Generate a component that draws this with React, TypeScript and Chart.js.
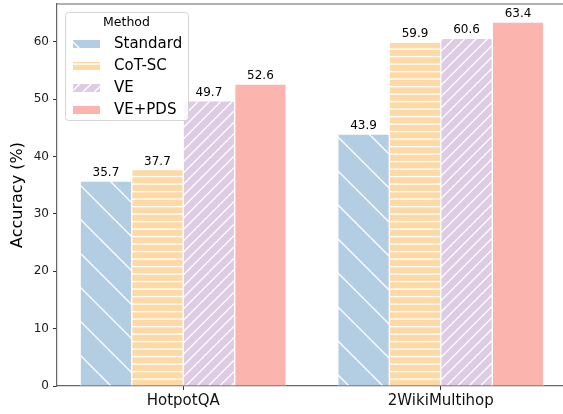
import React, { useEffect, useRef } from 'react';
import { Chart, registerables } from 'chart.js';

Chart.register(...registerables);

const categories = ['HotpotQA', '2WikiMultihop'];
const categoryPositions = [0, 1];
const methods = ['Standard', 'CoT-SC', 'VE', 'VE+PDS'];
const standardValues = [35.7, 43.9];
const cotscValues = [37.7, 59.9];
const veValues = [49.7, 60.6];
const vepdsValues = [52.6, 63.4];
const yTicks = [0, 10, 20, 30, 40, 50, 60];
const colors = ['#b3cde3', '#fed9a6', '#decbe4', '#fbb4ae'];
const hatches = ['\\', '-', '/', ''];

const FONT = "'DejaVu Sans', sans-serif";

function makePattern(color: string, hatch: string): CanvasPattern | string {
  if (!hatch) return color;
  const c = document.createElement('canvas');
  const ctx = c.getContext('2d')!;
  if (hatch === '-') {
    c.width = 16;
    c.height = 15;
    ctx.fillStyle = color;
    ctx.fillRect(0, 0, 16, 15);
    ctx.fillStyle = '#ffffff';
    ctx.fillRect(0, 3.4, 16, 1.4);
    ctx.fillRect(0, 10.9, 16, 1.4);
  } else {
    const s = 34;
    c.width = s;
    c.height = s;
    ctx.fillStyle = color;
    ctx.fillRect(0, 0, s, s);
    ctx.strokeStyle = '#ffffff';
    ctx.lineWidth = 1.3;
    ctx.beginPath();
    if (hatch === '\\') {
      const c0 = 31;
      for (let k = -2; k <= 1; k++) {
        const cc = c0 + k * s;
        ctx.moveTo(cc, 0);
        ctx.lineTo(cc + s, s);
      }
    } else {
      const c0 = 5;
      for (let k = -3; k <= 9; k++) {
        const cc = c0 + (k * s) / 3;
        ctx.moveTo(cc, 0);
        ctx.lineTo(cc - s, s);
      }
    }
    ctx.stroke();
  }
  return ctx.createPattern(c, 'repeat') as CanvasPattern;
}

const barLabelPlugin = {
  id: 'barLabels',
  afterDatasetsDraw(chart: any) {
    const ctx = chart.ctx;
    ctx.save();
    ctx.font = `12px ${FONT}`;
    ctx.fillStyle = '#000000';
    ctx.textAlign = 'center';
    ctx.textBaseline = 'bottom';
    chart.data.datasets.forEach((ds: any, i: number) => {
      const meta = chart.getDatasetMeta(i);
      meta.data.forEach((el: any, j: number) => {
        const v = ds.data[j].y;
        ctx.fillText(v.toFixed(1), el.x, el.y - 2);
      });
    });
    ctx.restore();
  },
};

const framePlugin = {
  id: 'frame',
  afterDraw(chart: any) {
    const { ctx, chartArea } = chart;
    ctx.save();
    ctx.strokeStyle = '#666666';
    ctx.lineWidth = 1.2;
    ctx.beginPath();
    ctx.moveTo(chartArea.left, chartArea.top);
    ctx.lineTo(chartArea.right, chartArea.top);
    ctx.lineTo(chartArea.right, chartArea.bottom);
    ctx.stroke();
    ctx.restore();
  },
};

const legendPlugin = {
  id: 'boxLegend',
  afterDraw(chart: any) {
    const ctx = chart.ctx;
    const x = 65.5, y = 12.5, w = 123, h = 108, r = 3;
    ctx.save();
    ctx.beginPath();
    ctx.moveTo(x + r, y);
    ctx.lineTo(x + w - r, y);
    ctx.quadraticCurveTo(x + w, y, x + w, y + r);
    ctx.lineTo(x + w, y + h - r);
    ctx.quadraticCurveTo(x + w, y + h, x + w - r, y + h);
    ctx.lineTo(x + r, y + h);
    ctx.quadraticCurveTo(x, y + h, x, y + h - r);
    ctx.lineTo(x, y + r);
    ctx.quadraticCurveTo(x, y, x + r, y);
    ctx.closePath();
    ctx.fillStyle = 'rgba(255,255,255,0.8)';
    ctx.fill();
    ctx.strokeStyle = 'rgba(204,204,204,0.8)';
    ctx.lineWidth = 1;
    ctx.stroke();

    ctx.fillStyle = '#000000';
    ctx.font = `12.5px ${FONT}`;
    ctx.textAlign = 'center';
    ctx.textBaseline = 'middle';
    ctx.fillText('Method', 126.5, 23);

    ctx.font = `15px ${FONT}`;
    ctx.textAlign = 'left';
    chart.data.datasets.forEach((ds: any, i: number) => {
      const cy = 44 + i * 22;
      ctx.fillStyle = ds.backgroundColor;
      ctx.fillRect(72, cy - 5, 29, 10);
      ctx.strokeStyle = '#ffffff';
      ctx.lineWidth = 1;
      ctx.strokeRect(72.5, cy - 4.5, 28, 9);
      ctx.fillStyle = '#000000';
      ctx.fillText(ds.label, 114, cy);
    });
    ctx.restore();
  },
};

export default function App() {
  const ref = useRef<HTMLCanvasElement | null>(null);

  useEffect(() => {
    const canvas = ref.current;
    if (!canvas) return;
    const seriesValues = [standardValues, cotscValues, veValues, vepdsValues];
    const datasets = methods.map((label, i) => ({
      label,
      data: categoryPositions.map((x, j) => ({ x, y: seriesValues[i][j] })),
      backgroundColor: makePattern(colors[i], hatches[i]),
      borderColor: '#ffffff',
      borderWidth: 1,
      barThickness: 51.5,
    }));

    const chart = new Chart(canvas, {
      type: 'bar',
      data: { datasets } as any,
      options: {
        animation: false,
        responsive: false,
        devicePixelRatio: 1,
        layout: { padding: { top: 4, right: 3, left: 0, bottom: 0 } },
        plugins: {
          legend: { display: false },
          tooltip: { enabled: false },
        },
        scales: {
          x: {
            type: 'linear',
            min: -0.49,
            max: 1.49,
            offset: false,
            afterBuildTicks: (s: any) => {
              s.ticks = categoryPositions.map((v) => ({ value: v }));
            },
            afterFit: (s: any) => {
              s.height = 28;
              s.paddingLeft = 0;
              s.paddingRight = 0;
              s.paddingTop = 0;
              s.paddingBottom = 0;
            },
            grid: {
              offset: false,
              drawOnChartArea: false,
              drawTicks: true,
              tickLength: 4,
              color: '#333333',
            },
            border: { display: true, color: '#666666', width: 1.2 },
            ticks: {
              autoSkip: false,
              maxRotation: 0,
              padding: 2,
              color: '#111111',
              font: { family: FONT, size: 15 },
              callback: (v: any) => {
                const idx = categoryPositions.indexOf(Number(v));
                return idx >= 0 ? categories[idx] : '';
              },
            },
          },
          y: {
            type: 'linear',
            min: 0,
            max: 66.57,
            afterBuildTicks: (s: any) => {
              s.ticks = yTicks.map((v) => ({ value: v }));
            },
            afterFit: (s: any) => {
              s.width = 57;
              s.paddingLeft = 0;
              s.paddingRight = 0;
              s.paddingTop = 0;
              s.paddingBottom = 0;
            },
            grid: {
              drawOnChartArea: false,
              drawTicks: true,
              tickLength: 4,
              color: '#333333',
            },
            border: { display: true, color: '#666666', width: 1.2 },
            ticks: {
              padding: 4,
              color: '#1a1a1a',
              font: { family: FONT, size: 12 },
            },
            title: {
              display: true,
              text: 'Accuracy (%)',
              color: '#000000',
              font: { family: FONT, size: 16 },
              padding: { top: 8, bottom: 0 },
            },
          },
        },
      } as any,
      plugins: [barLabelPlugin, framePlugin, legendPlugin],
    });

    return () => {
      chart.destroy();
    };
  }, []);

  return (
    <div
      style={{
        position: 'fixed',
        left: 0,
        top: 0,
        width: 563,
        height: 414,
        overflow: 'hidden',
        background: '#ffffff',
      }}
    >
      <canvas ref={ref} width={570} height={414} style={{ width: 570, height: 414, display: 'block' }} />
    </div>
  );
}
